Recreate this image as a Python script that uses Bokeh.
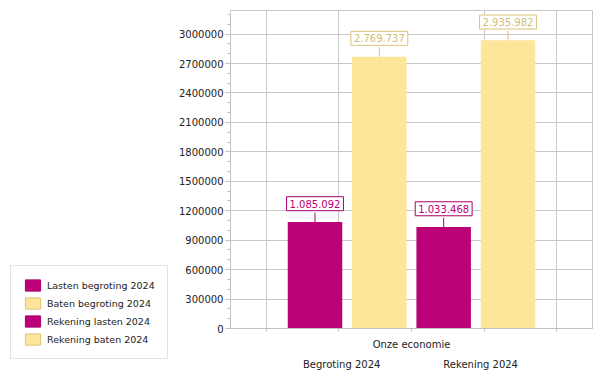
from bokeh.plotting import figure
from bokeh.layouts import row, column
from bokeh.models import (Range1d, FixedTicker, SingleIntervalTicker, BasicTickFormatter,
                          Label, Legend, LegendItem, ColumnDataSource, LinearAxis)
from bokeh.embed import file_html
from bokeh.resources import INLINE

# ---- data ----
series = ["Lasten begroting 2024", "Baten begroting 2024", "Rekening lasten 2024", "Rekening baten 2024"]
values = [1085092, 2769737, 1033468, 2935982]
value_labels = ["1.085.092", "2.769.737", "1.033.468", "2.935.982"]
category = "Onze economie"
groups = ["Begroting 2024", "Rekening 2024"]
fill_colors = ["#BC0077", "#FDE599", "#BC0077", "#FDE599"]
edge_colors = ["#A8006A", "#DCC478", "#A8006A", "#DCC478"]
text_colors = ["#BC0077", "#D2BC74", "#BC0077", "#D2BC74"]

FONT = "DejaVu Sans"
FS = "10px"
LFS = "9.5px"
LEFT_W = 172
H = 372
W = 600 - LEFT_W
FT, FB = 10, 44
FR = 8
FL = 230 - LEFT_W
frame_h = H - FT - FB
ymax = 3240000
positions = [1, 2, 3, 4]
center = 2.5
half = 2.8135
grid_step = 1.13
group_pos = [center - 1.085, center + 1.075]

p = figure(width=W, height=H, output_backend="svg", toolbar_location=None,
           x_range=Range1d(center - half, center + half), y_range=Range1d(0, ymax),
           min_border_left=FL, min_border_right=FR, min_border_top=FT, min_border_bottom=FB)
p.outline_line_color = "#C8C8C8"

# bars
src = ColumnDataSource(dict(x=positions, top=values, color=fill_colors))
p.vbar(x="x", top="top", width=0.847, fill_color="color", line_color=None, source=src)

# leader lines and value boxes
lead_px = 9.3
lead = lead_px * ymax / frame_h
p.segment(x0=positions, x1=positions, y0=values, y1=[v + lead for v in values],
          line_color=edge_colors, line_width=1)
for xv, v, t, ec, tc in zip(positions, values, value_labels, edge_colors, text_colors):
    p.add_layout(Label(x=xv, y=v, y_offset=lead_px + 2, text=t, text_align="center",
                       text_baseline="bottom", text_font=FONT, text_font_size="10px",
                       text_color=tc, background_fill_color="white",
                       border_line_color=ec, border_line_width=1, padding=3))

# axes
yax = p.yaxis[0]
yax.ticker = SingleIntervalTicker(interval=300000, num_minor_ticks=3)
yax.formatter = BasicTickFormatter(use_scientific=False)
yax.major_tick_in = 0
yax.major_tick_out = 5
yax.minor_tick_in = 0
yax.minor_tick_out = 3
yax.major_label_standoff = 2
for ax in (p.xaxis[0], yax):
    ax.axis_line_color = "#C0C0C0"
    ax.major_tick_line_color = "#C0C0C0"
    ax.minor_tick_line_color = "#C0C0C0"
    ax.major_label_text_font = FONT
    ax.major_label_text_font_size = FS
    ax.major_label_text_color = "#222222"

xticks = [center - 2 * grid_step, center - grid_step, center, center + grid_step, center + 2 * grid_step]
xax = p.xaxis[0]
xax.ticker = FixedTicker(ticks=xticks)
xax.major_label_overrides = {t: (category if t == center else "") for t in xticks}
xax.major_tick_in = 0
xax.major_tick_out = 3
xax.minor_tick_line_color = None
xax.major_label_standoff = 7

# second level category axis
gax = LinearAxis(ticker=FixedTicker(ticks=group_pos),
                 major_label_overrides={gp: g for gp, g in zip(group_pos, groups)},
                 axis_line_color=None, major_tick_line_color=None, minor_tick_line_color=None,
                 major_label_standoff=0, major_label_text_font=FONT,
                 major_label_text_font_size=FS, major_label_text_color="#222222")
p.add_layout(gax, "below")

p.ygrid.ticker = SingleIntervalTicker(interval=300000)
p.ygrid.grid_line_color = "#C8C8C8"
p.xgrid.ticker = FixedTicker(ticks=[t for t in xticks if t != center])
p.xgrid.grid_line_color = "#C8C8C8"

# legend figure on the left
lf = figure(width=LEFT_W, height=H, output_backend="svg", toolbar_location=None,
            x_range=Range1d(0, 1), y_range=Range1d(0, 1),
            min_border=0, outline_line_color=None)
lf.axis.visible = False
lf.grid.visible = False
items = []
for s, fc, ec in zip(series, fill_colors, edge_colors):
    r = lf.vbar(x=[float("nan")], top=[float("nan")], width=1, fill_color=fc, line_color=ec)
    items.append(LegendItem(label=s, renderers=[r]))
leg = Legend(items=items, location=(10, 13), padding=12, spacing=4, margin=0,
             glyph_width=19, glyph_height=14, label_height=14, label_standoff=5,
             label_text_font=FONT, label_text_font_size=LFS, label_text_color="#222222",
             border_line_color="#C8C8C8", background_fill_color="white")
lf.add_layout(leg, "center")

layout = row(column(lf), p, spacing=0)
open("out.html", "w").write(file_html(layout, INLINE))
